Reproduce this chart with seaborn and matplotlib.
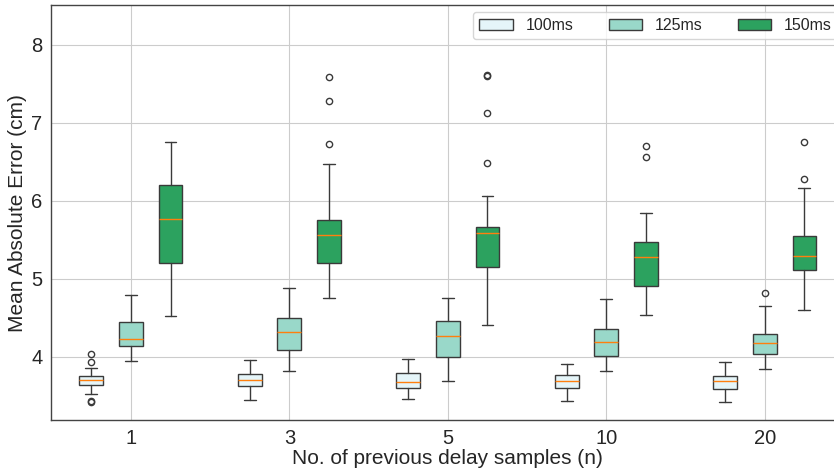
import matplotlib
matplotlib.use("Agg")
import matplotlib.pyplot as plt
import seaborn as sns
from matplotlib.patches import Patch

groups = ["1", "3", "5", "10", "20"]
delays = ["100ms", "125ms", "150ms"]
colors = ["#e5f5f9", "#99d8c9", "#2ca25f"]

# Summary statistics (per delay, per group n)
whislo_100 = [3.52, 3.455, 3.46, 3.43, 3.425]
q1_100 = [3.646, 3.63, 3.60, 3.60, 3.586]
med_100 = [3.70, 3.71, 3.68, 3.69, 3.69]
q3_100 = [3.75, 3.78, 3.79, 3.77, 3.757]
whishi_100 = [3.855, 3.96, 3.98, 3.91, 3.94]
fliers_100 = [[3.42, 3.43, 3.93, 4.04], [], [], [], []]

whislo_125 = [3.95, 3.825, 3.69, 3.825, 3.84]
q1_125 = [4.14, 4.09, 4.00, 4.01, 4.04]
med_125 = [4.23, 4.32, 4.27, 4.19, 4.18]
q3_125 = [4.45, 4.50, 4.455, 4.365, 4.30]
whishi_125 = [4.80, 4.89, 4.76, 4.74, 4.65]
fliers_125 = [[], [], [], [], [4.825]]

whislo_150 = [4.53, 4.75, 4.41, 4.54, 4.60]
q1_150 = [5.20, 5.20, 5.16, 4.91, 5.11]
med_150 = [5.77, 5.56, 5.59, 5.28, 5.30]
q3_150 = [6.21, 5.76, 5.67, 5.47, 5.55]
whishi_150 = [6.75, 6.48, 6.06, 5.85, 6.17]
fliers_150 = [[], [6.73, 7.28, 7.59], [6.49, 7.13, 7.60, 7.62], [6.57, 6.71], [6.28, 6.75]]

series = [
    (whislo_100, q1_100, med_100, q3_100, whishi_100, fliers_100),
    (whislo_125, q1_125, med_125, q3_125, whishi_125, fliers_125),
    (whislo_150, q1_150, med_150, q3_150, whishi_150, fliers_150),
]

sns.set_theme(style="whitegrid")
plt.rcParams["font.family"] = ["Liberation Sans", "DejaVu Sans"]

fig = plt.figure(figsize=(8.34, 4.70), dpi=100)
# the right edge of the axes lies just outside the canvas, as in the reference
ax = fig.add_axes([0.061, 0.106, 0.952, 0.883])

edge = "#3a3a3a"
offsets = [-0.25, 0.0, 0.25]
for k, (lo, q1, med, q3, hi, fl) in enumerate(series):
    stats = []
    for i in range(len(groups)):
        stats.append(dict(whislo=lo[i], q1=q1[i], med=med[i], q3=q3[i],
                          whishi=hi[i], fliers=fl[i], label=groups[i]))
    pos = [i + offsets[k] for i in range(len(groups))]
    ax.bxp(stats, positions=pos, widths=0.15, patch_artist=True,
           showfliers=True, manage_ticks=False,
           boxprops=dict(facecolor=colors[k], edgecolor=edge, linewidth=1.0),
           whiskerprops=dict(color=edge, linewidth=1.0),
           capprops=dict(color=edge, linewidth=1.0),
           medianprops=dict(color="#ff7f0e", linewidth=1.0),
           flierprops=dict(marker="o", markerfacecolor="none",
                           markeredgecolor=edge, markersize=4.5,
                           markeredgewidth=1.0))

ax.set_xticks(range(len(groups)))
ax.set_xticklabels(groups)
ax.set_xlim(-0.505, 4.505)
ax.set_ylim(3.19, 8.51)
ax.set_yticks([4, 5, 6, 7, 8])
ax.tick_params(axis="both", labelsize=14.5, length=3, color=edge, pad=3)
ax.grid(True, color="#cccccc", linewidth=0.8)
ax.set_axisbelow(True)
for s in ax.spines.values():
    s.set_color("#444444")
    s.set_linewidth(1.0)
ax.set_xlabel("No. of previous delay samples (n)", fontsize=15, labelpad=1)
ax.set_ylabel("Mean Absolute Error (cm)", fontsize=15, labelpad=3)

handles = [Patch(facecolor=c, edgecolor=edge, label=d) for c, d in zip(colors, delays)]
ax.legend(handles=handles, loc="upper right", ncol=3, fontsize=11.5,
          handlelength=2.1, columnspacing=2.2, frameon=True,
          borderaxespad=0.4)

fig.savefig("out.png", dpi=100)
